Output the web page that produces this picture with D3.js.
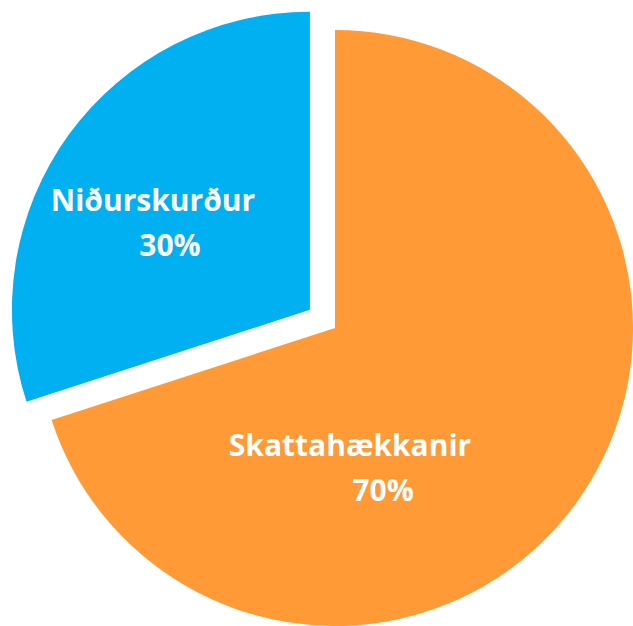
<!DOCTYPE html>
<html lang="is">
<head>
    <meta charset="UTF-8">
    <title>Skattahækkanir og niðurskurður</title>
    <script src="https://d3js.org/d3.v7.min.js"></script>
    <style>
        body { margin: 0; padding: 0; background: #ffffff; }
        svg { display: block; }
        .label { font-family: "Open Sans", sans-serif; font-weight: 700; fill: #ffffff; font-size: 30px; }
    </style>
</head>
<body>
    <svg width="633" height="626"></svg>
    <script>
        // gögn
        const categories = ["Skattahækkanir", "Niðurskurður"];
        const values = [70, 30];
        const pctLabels = ["70%", "30%"];
        const colors = ["#FF9A36", "#00B0F0"];

        const width = 633, height = 626;
        const cx = 335, cy = 328, radius = 298;
        const explode = [0, 31];
        // label placement relative to slice centre (line 1 centre x, baseline y; line 2)
        const labelPos = [
            { x1: 15, y1: 128, x2: 48, y2: 173 },
            { x1: -157, y1: -99, x2: -140, y2: -54 }
        ];

        const svg = d3.select("svg");
        const pie = d3.pie().sort(null).value(d => d)(values);
        const arc = d3.arc().innerRadius(0).outerRadius(radius);

        const slices = svg.append("g")
            .attr("transform", `translate(${cx},${cy})`)
            .selectAll("g")
            .data(pie)
            .join("g")
            .attr("transform", (d, i) => {
                const mid = (d.startAngle + d.endAngle) / 2;
                return `translate(${Math.sin(mid) * explode[i]},${-Math.cos(mid) * explode[i]})`;
            });

        slices.append("path")
            .attr("d", arc)
            .attr("fill", (d, i) => colors[i]);

        slices.append("text")
            .attr("class", "label")
            .attr("text-anchor", "middle")
            .attr("x", (d, i) => labelPos[i].x1)
            .attr("y", (d, i) => labelPos[i].y1)
            .text((d, i) => categories[i]);

        slices.append("text")
            .attr("class", "label")
            .attr("text-anchor", "middle")
            .attr("x", (d, i) => labelPos[i].x2)
            .attr("y", (d, i) => labelPos[i].y2)
            .text((d, i) => pctLabels[i]);
    </script>
</body>
</html>
